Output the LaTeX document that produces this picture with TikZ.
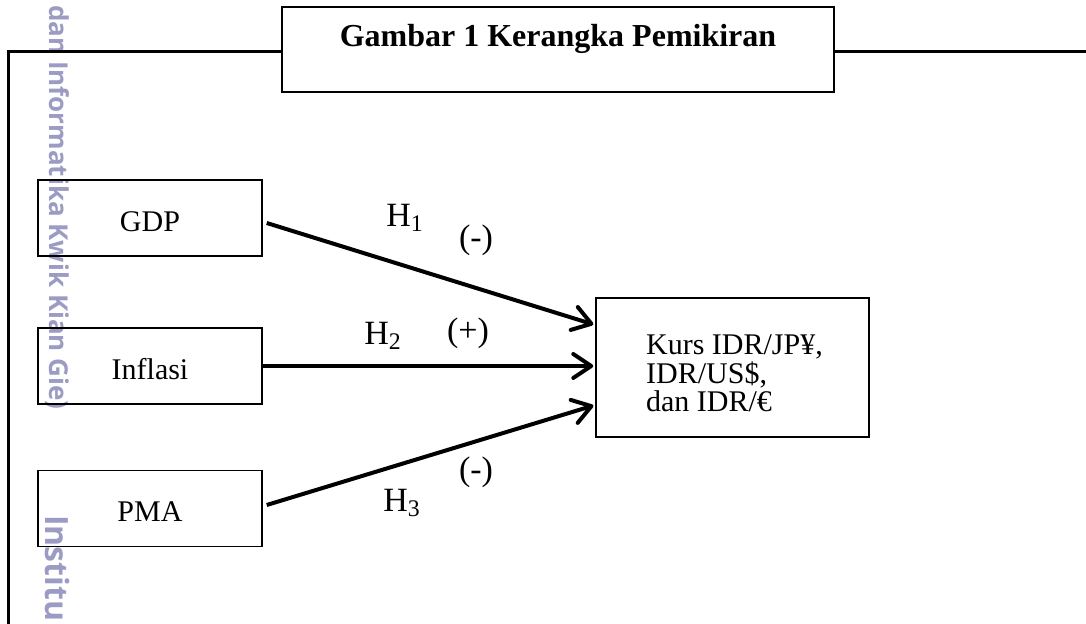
\documentclass[tikz,border=0pt]{standalone}
\usepackage{fontspec}
\setmainfont{Liberation Serif}
\newfontfamily\wmfont{Open Sans}
\usetikzlibrary{arrows.meta}
\definecolor{wm}{RGB}{155,155,195}
\tikzset{every node/.style={align=center}, >={Straight Barb[length=9pt,width=12pt,round]},
  kotak/.style={draw, line width=0.75pt, minimum width=112pt, inner sep=0pt, text height=25.75pt, text depth=12.25pt, font=\fontsize{15}{17}\selectfont},
  panah/.style={->, line width=2pt, shorten >=1pt},
  hip/.style={inner sep=0pt, font=\fontsize{17}{19}\selectfont},
  tanda/.style={rotate=-90, anchor=west, text=wm}}

\begin{document}
\begin{tikzpicture}[x=0.5pt, y=-0.5pt]
  \useasboundingbox (0,0) rectangle (1086,624);
  % watermark di tepi kiri
  \node [tanda, font=\wmfont\bfseries\fontsize{13}{14}\selectfont] (wm1) at (57,-2) {dan Informatika Kwik Kian Gie)};
  \node [tanda, font=\wmfont\bfseries\fontsize{16}{16}\selectfont] (wm2) at (57,508) {Institu};
  % bingkai
  \draw [line width=1.5pt] (8,624) -- (8,52) -- (1086,52);
  \node [draw, fill=white, line width=0.75pt, minimum width=276pt, inner sep=0pt, text height=20pt, text depth=22.5pt, font=\bfseries\fontsize{16}{18}\selectfont] (judul) at (558,49.5) {Gambar 1 Kerangka Pemikiran};
  % variabel
  \node [kotak] (gdp) at (150,218) {GDP};
  \node [kotak] (inf) at (150,366) {Inflasi};
  \node [kotak] (pma) at (150,508.5) {PMA};
  \node [draw, line width=0.75pt, minimum width=136.5pt, minimum height=69.5pt] (kurs) at (732.5,367.5) {};
  \node [align=left, inner sep=0pt, font=\fontsize{15}{14.25}\selectfont] (kursteks) at ([xshift=1pt,yshift=-3pt]kurs.center) {Kurs IDR/JP¥,\\ IDR/US\$,\\ dan IDR/€};
  % hipotesis
  \draw [panah] ([xshift=2pt,yshift=-2.5pt]gdp.east) -- ([yshift=21.25pt]kurs.west);
  \draw [panah] (inf.east) -- (inf.east -| kurs.west);
  \draw [panah] ([xshift=2pt,yshift=1.75pt]pma.east) -- ([yshift=-18.75pt]kurs.west);
  \node [hip] (h1) at (405,218) {H\textsubscript{1}};
  \node [hip] (t1) at (476,240) {(-)};
  \node [hip] (h2) at (383,336) {H\textsubscript{2}};
  \node [hip] (t2) at (468,333) {(+)};
  \node [hip] (t3) at (476,472) {(-)};
  \node [hip] (h3) at (402,503) {H\textsubscript{3}};
\end{tikzpicture}
\end{document}
